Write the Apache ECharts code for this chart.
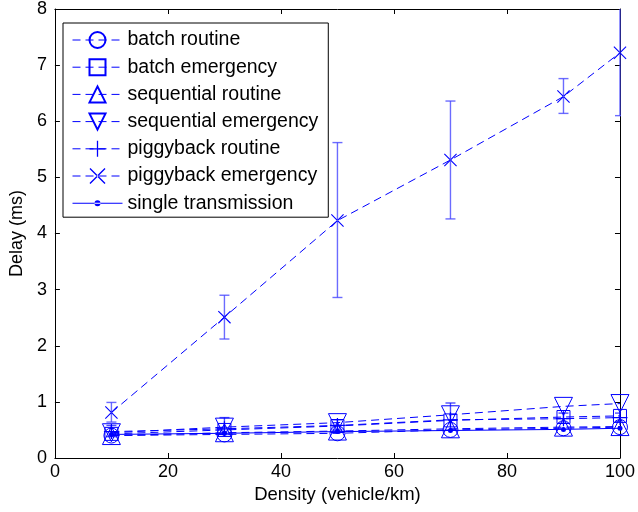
<!DOCTYPE html>
<html>
<head>
<meta charset="utf-8">
<script src="https://cdn.jsdelivr.net/npm/echarts@6/dist/echarts.min.js"></script>
<style>html,body{margin:0;padding:0;background:#fff}#c{width:638px;height:512px}</style>
</head>
<body>
<div id="c"></div>
<script>
// ---- data ----
const density = [10, 30, 50, 70, 90, 100];
const batchRoutine = [0.40, 0.42, 0.44, 0.50, 0.53, 0.55];
const batchEmergency = [0.43, 0.50, 0.57, 0.67, 0.73, 0.75];
const seqRoutine = [0.40, 0.45, 0.48, 0.52, 0.55, 0.56];
const seqEmergency = [0.45, 0.55, 0.63, 0.77, 0.92, 0.97];
const pigRoutine = [0.47, 0.52, 0.58, 0.68, 0.70, 0.72];
const pigRoutineLow = [0.38, 0.42, 0.50, 0.50, 0.62, 0.65];
const pigRoutineHigh = [0.58, 0.72, 0.68, 0.98, 0.80, 0.80];
const pigEmergency = [0.81, 2.51, 4.23, 5.31, 6.44, 7.22];
const pigEmergencyLow = [0.64, 2.12, 2.86, 4.26, 6.14, 6.10];
const pigEmergencyHigh = [0.99, 2.90, 5.62, 6.36, 6.76, 8.34];
const singleTx = [0.42, 0.44, 0.47, 0.49, 0.51, 0.53];
const xTicks = [0, 20, 40, 60, 80, 100];
const yTicks = [0, 1, 2, 3, 4, 5, 6, 7, 8];

const names = ['batch routine', 'batch emergency', 'sequential routine', 'sequential emergency',
  'piggyback routine', 'piggyback emergency', 'single transmission'];

const BLUE = '#0000ff';
const SYM = {
  plus: 'path://M4.6,0 L5.4,0 L5.4,10 L4.6,10 Z M0,4.6 L10,4.6 L10,5.4 L0,5.4 Z',
  cross: 'path://M0,0.6 L0.6,0 L10,9.4 L9.4,10 Z M10,0.6 L9.4,0 L0,9.4 L0.6,10 Z',
  triDown: 'path://M0,0 L10,0 L5,9 Z',
  triUp: 'path://M5,0 L10,9 L0,9 Z'
};
// legend icon for the solid line with a small dot (50 x 20 box)
const SINGLE_ICON = 'path://M0,0 L0.01,0 L0.01,0.01 Z M0,9.5 L50,9.5 L50,10.5 L0,10.5 Z M22,10 A3,3 0 1,0 28,10 A3,3 0 1,0 22,10 Z M49.99,19.99 L50,20 L49.99,20 Z';

const pair = arr => density.map((x, i) => [x, arr[i]]);
const triple = (lo, hi) => density.map((x, i) => [x, lo[i], hi[i]]);

function lineSeries(name, values, symbol, size, filled) {
  return {
    name, type: 'line', data: pair(values), symbol, symbolSize: size,
    showAllSymbol: true, z: 3,
    lineStyle: { color: BLUE, width: 1, type: [8, 5] },
    itemStyle: filled
      ? { color: BLUE, borderWidth: 0 }
      : { color: 'rgba(0,0,0,0)', borderColor: BLUE, borderWidth: 1 },
    emphasis: { disabled: true }
  };
}

function errSeries(lo, hi, color) {
  return {
    type: 'custom', data: triple(lo, hi), clip: true, z: 2,
    encode: { x: 0, y: [1, 2] },
    renderItem: function (params, api) {
      const x = api.value(0);
      const p1 = api.coord([x, api.value(1)]);
      const p2 = api.coord([x, api.value(2)]);
      const w = 5;
      const st = { stroke: color, lineWidth: 1.4 };
      return {
        type: 'group', children: [
          { type: 'line', shape: { x1: p1[0], y1: p1[1], x2: p2[0], y2: p2[1] }, style: st },
          { type: 'line', shape: { x1: p1[0] - w, y1: p1[1], x2: p1[0] + w, y2: p1[1] }, style: st },
          { type: 'line', shape: { x1: p2[0] - w, y1: p2[1], x2: p2[0] + w, y2: p2[1] }, style: st }
        ]
      };
    }
  };
}

const axisCommon = {
  axisLine: { show: true, onZero: false, lineStyle: { color: '#000', width: 1 } },
  axisTick: { show: true, inside: true, length: 5, lineStyle: { color: '#000' } },
  splitLine: { show: false }
};

const chart = echarts.init(document.getElementById('c'), null, { renderer: 'canvas' });
chart.setOption({
  animation: false,
  backgroundColor: '#fff',
  color: [BLUE],
  textStyle: { fontFamily: 'Liberation Sans, Arial, sans-serif' },
  grid: { left: 51.5, right: 16, top: 9, bottom: 54 },
  xAxis: [
    Object.assign({
      type: 'value', min: xTicks[0], max: xTicks[xTicks.length - 1], interval: 20, position: 'bottom',
      name: 'Density (vehicle/km)', nameLocation: 'middle', nameGap: 27,
      nameTextStyle: { fontSize: 18.5, color: '#000' },
      axisLabel: { fontSize: 18, color: '#000', margin: 5 }
    }, axisCommon),
    Object.assign({
      type: 'value', min: xTicks[0], max: xTicks[xTicks.length - 1], interval: 20, position: 'top',
      axisLabel: { show: false }
    }, axisCommon)
  ],
  yAxis: [
    Object.assign({
      type: 'value', min: yTicks[0], max: yTicks[yTicks.length - 1], interval: 1, position: 'left',
      name: 'Delay (ms)', nameLocation: 'middle', nameGap: 27,
      nameTextStyle: { fontSize: 18, color: '#000' },
      axisLabel: { fontSize: 18, color: '#000', margin: 8 }
    }, axisCommon),
    Object.assign({
      type: 'value', min: yTicks[0], max: yTicks[yTicks.length - 1], interval: 1, position: 'right',
      axisLabel: { show: false }
    }, axisCommon)
  ],
  legend: {
    data: names.slice(0, 6).concat([{ name: names[6], icon: SINGLE_ICON }]),
    orient: 'vertical', left: 63, top: 23,
    backgroundColor: '#fff', borderColor: '#000', borderWidth: 1,
    padding: [7, 10, 4, 9], itemWidth: 50, itemHeight: 20, itemGap: 7.2,
    lineStyle: { width: 1, color: BLUE },
    textStyle: { fontSize: 19.5, color: '#000', lineHeight: 19 },
    selectedMode: false
  },
  series: [
    errSeries(pigRoutineLow, pigRoutineHigh, 'rgba(0,0,255,0.7)'),
    errSeries(pigEmergencyLow, pigEmergencyHigh, 'rgba(70,70,255,0.8)'),
    lineSeries(names[0], batchRoutine, 'circle', 15, false),
    lineSeries(names[1], batchEmergency, 'rect', 13, false),
    lineSeries(names[2], seqRoutine, SYM.triUp, 18, false),
    lineSeries(names[3], seqEmergency, SYM.triDown, 18, false),
    lineSeries(names[4], pigRoutine, SYM.plus, 15, true),
    lineSeries(names[5], pigEmergency, SYM.cross, 13, true),
    {
      name: names[6], type: 'line', data: pair(singleTx), symbol: 'circle', symbolSize: 5, z: 4,
      lineStyle: { color: BLUE, width: 1 }, itemStyle: { color: BLUE },
      emphasis: { disabled: true }
    }
  ]
});
</script>
</body>
</html>
